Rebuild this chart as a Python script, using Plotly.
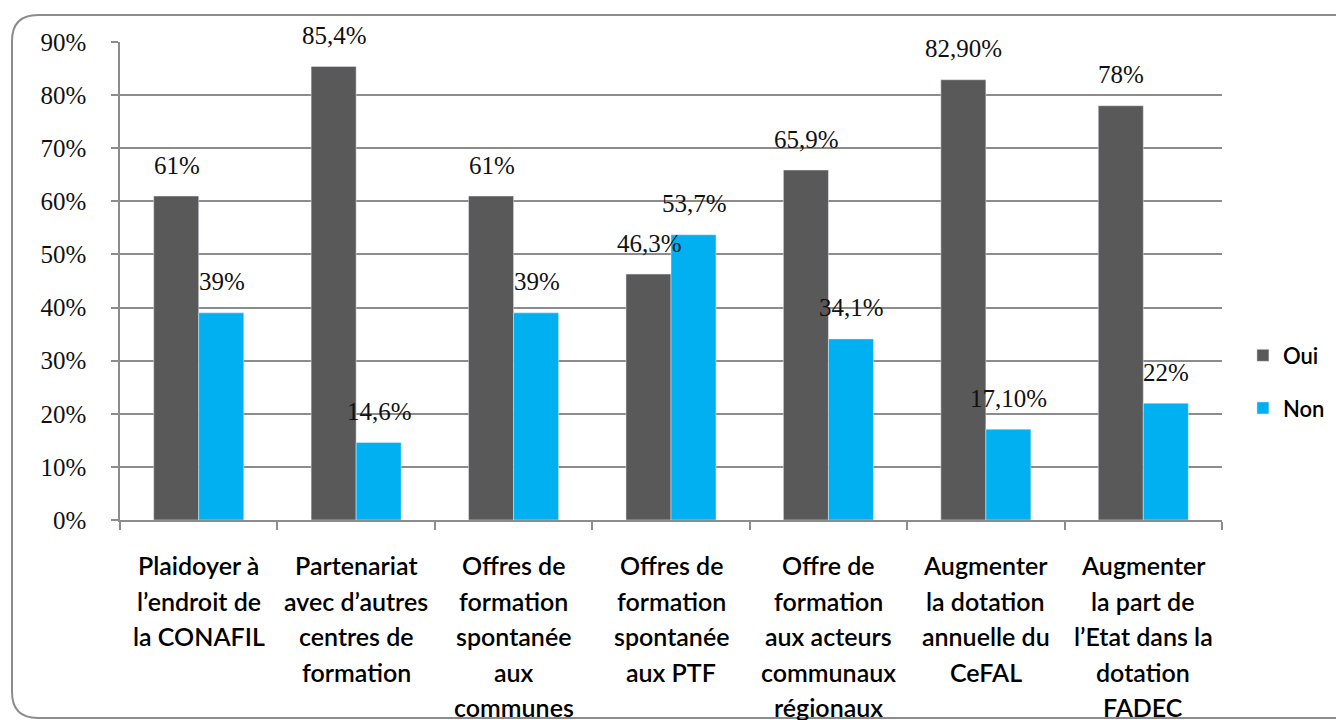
import plotly.graph_objects as go

categories = [
    "Plaidoyer à<br>l’endroit de<br>la CONAFIL",
    "Partenariat<br>avec d’autres<br>centres de<br>formation",
    "Offres de<br>formation<br>spontanée<br>aux<br>communes",
    "Offres de<br>formation<br>spontanée<br>aux PTF",
    "Offre de<br>formation<br>aux acteurs<br>communaux<br>régionaux",
    "Augmenter<br>la dotation<br>annuelle du<br>CeFAL",
    "Augmenter<br>la part de<br>l’Etat dans la<br>dotation<br>FADEC",
]
oui = [0.61, 0.854, 0.61, 0.463, 0.659, 0.829, 0.78]
non = [0.39, 0.146, 0.39, 0.537, 0.341, 0.171, 0.22]
oui_labels = ["61%", "85,4%", "61%", "46,3%", "65,9%", "82,90%", "78%"]
non_labels = ["39%", "14,6%", "39%", "53,7%", "34,1%", "17,10%", "22%"]
y_ticks = [0, 0.1, 0.2, 0.3, 0.4, 0.5, 0.6, 0.7, 0.8, 0.9]
y_ticklabels = ["0%", "10%", "20%", "30%", "40%", "50%", "60%", "70%", "80%", "90%"]

W, H = 1344, 720
OFF = 8  # page body margin
ML, MT = 120 - OFF, 42 - OFF
MR = W - (1222 - OFF)
MB = H - (520 - OFF)
SERIF = "Liberation Serif"
SANS = "Lato"
C_OUI = "#595959"
C_NON = "#00B0F0"
GRID = "#8c8c8c"

cat_ids = list(range(len(categories)))

fig = go.Figure()
fig.add_trace(go.Bar(x=cat_ids, y=oui, name="Oui", marker_color=C_OUI,
                     legendgroup="a", hoverinfo="skip"))
fig.add_trace(go.Bar(x=cat_ids, y=non, name="Non", marker_color=C_NON,
                     legendgroup="b", hoverinfo="skip"))

val_font = dict(family=SERIF, size=25, color="#111111")
cat_font = dict(family=SANS, size=25, color="#000000", weight=600)

annotations = []
for i in cat_ids:
    annotations.append(dict(x=i, y=oui[i], xref="x", yref="y", text=oui_labels[i],
                            showarrow=False, xshift=-22, yshift=31, yanchor="middle",
                            font=val_font))
    annotations.append(dict(x=i, y=non[i], xref="x", yref="y", text=non_labels[i],
                            showarrow=False, xshift=23, yshift=31, yanchor="middle",
                            font=val_font))
    for j, line in enumerate(categories[i].split("<br>")):
        annotations.append(dict(x=i, y=0, xref="x", yref="y", text=line,
                                showarrow=False, yshift=-(45 + 35.5 * j), yanchor="middle",
                                font=cat_font))

# rounded border (screen pixel -> paper conversion)
pw, ph = W - ML - MR, H - MT - MB
def px(x):
    return (x - OFF - ML) / pw
def py(y):
    return (H - MB - (y - OFF)) / ph
x0, x1, y0, y1, r = 12, 1370, 15, 718, 26
path = (f"M {px(x0 + r)},{py(y0)} L {px(x1)},{py(y0)} L {px(x1)},{py(y1)} "
        f"L {px(x0 + r)},{py(y1)} Q {px(x0)},{py(y1)} {px(x0)},{py(y1 - r)} "
        f"L {px(x0)},{py(y0 + r)} Q {px(x0)},{py(y0)} {px(x0 + r)},{py(y0)} Z")

fig.update_layout(
    width=W, height=H,
    margin=dict(l=ML, r=MR, t=MT, b=MB),
    paper_bgcolor="white", plot_bgcolor="white",
    barmode="group", bargap=0.428, bargroupgap=0,
    font=dict(family=SANS, size=20, color="#000000"),
    showlegend=True,
    legend=dict(x=1.019, xanchor="left", y=0.388, yanchor="top",
                tracegroupgap=21, font=dict(family=SANS, size=22, color="#000000", weight=600),
                bgcolor="rgba(0,0,0,0)"),
    annotations=annotations,
    shapes=[dict(type="path", xref="paper", yref="paper", path=path,
                 line=dict(color="#8c8c8c", width=2), layer="below")],
)
fig.update_xaxes(type="linear", range=[-0.5, len(categories) - 0.5], showticklabels=False,
                 tickvals=[k - 0.5 for k in range(len(categories) + 1)],
                 ticks="outside", ticklen=8, tickcolor=GRID, tickwidth=1.5,
                 showgrid=False, showline=True, linecolor=GRID, linewidth=1.5,
                 zeroline=False, fixedrange=True)
fig.update_yaxes(range=[0, 0.9], tickvals=y_ticks, ticktext=y_ticklabels,
                 ticks="outside", ticklen=7, tickcolor=GRID, tickwidth=1.5,
                 showgrid=True, gridcolor=GRID, gridwidth=1.5,
                 showline=True, linecolor=GRID, linewidth=1.5,
                 zeroline=False, ticklabelstandoff=20,
                 tickfont=dict(family=SERIF, size=25, color="#111111"))

fig.write_html("out.html")
